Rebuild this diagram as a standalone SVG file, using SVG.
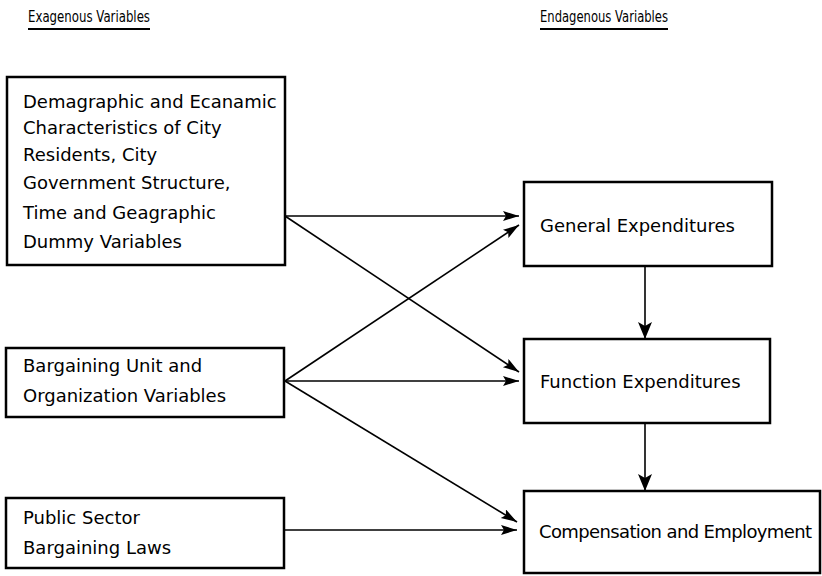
<svg xmlns="http://www.w3.org/2000/svg" width="822" height="576" viewBox="0 0 822 576">
<style>
.box{fill:#fff;stroke:#000;stroke-width:2.5}
.t{font-family:"DejaVu Sans","Liberation Sans",sans-serif;font-size:18px;fill:#000}
.h{font-family:"DejaVu Sans","Liberation Sans",sans-serif;font-size:16px;fill:#000}
.c{stroke:#000;stroke-width:1.6;fill:none}
.u{stroke:#000;stroke-width:1.8}
</style>
<defs>
<marker id="ah" markerUnits="userSpaceOnUse" markerWidth="18" markerHeight="12" refX="16" refY="5" orient="auto">
<path d="M0,0 L16,5 L0,10 L3,5 z" fill="#000"/>
</marker>
<marker id="av" markerUnits="userSpaceOnUse" markerWidth="18" markerHeight="16" refX="17" refY="7" orient="auto">
<path d="M0,0 L17,7 L0,14 L4,7 z" fill="#000"/>
</marker>
</defs>
<g id="headers">
<text class="h" x="28" y="22" textLength="122" lengthAdjust="spacingAndGlyphs">Exagenous Variables</text>
<line class="u" x1="28" y1="29" x2="150" y2="29"/>
<text class="h" x="540" y="22" textLength="128" lengthAdjust="spacingAndGlyphs">Endagenous Variables</text>
<line class="u" x1="540" y1="29" x2="668" y2="29"/>
</g>
<g id="connectors">
<line class="c" x1="285" y1="216" x2="519" y2="216" marker-end="url(#ah)"/>
<line class="c" x1="285" y1="216" x2="519" y2="372" marker-end="url(#ah)"/>
<line class="c" x1="285" y1="381" x2="519" y2="225" marker-end="url(#ah)"/>
<line class="c" x1="285" y1="381" x2="519" y2="381" marker-end="url(#ah)"/>
<line class="c" x1="285" y1="381" x2="517" y2="522" marker-end="url(#ah)"/>
<line class="c" x1="285" y1="530" x2="517" y2="530" marker-end="url(#ah)"/>
<line class="c" x1="645" y1="267" x2="645" y2="339" marker-end="url(#av)"/>
<line class="c" x1="645" y1="423" x2="645" y2="491" marker-end="url(#av)"/>
</g>
<g id="demographic">
<rect class="box" x="7" y="77" width="278" height="188"/>
<text class="t" x="23" y="108">Demagraphic and Ecanamic</text>
<text class="t" x="23" y="134">Characteristics of City</text>
<text class="t" x="23" y="161">Residents, City</text>
<text class="t" x="23" y="189">Government Structure,</text>
<text class="t" x="23" y="219">Time and Geagraphic</text>
<text class="t" x="23" y="248">Dummy  Variables</text>
</g>
<g id="bargaining-unit">
<rect class="box" x="6" y="348" width="278" height="69"/>
<text class="t" x="23" y="372">Bargaining Unit and</text>
<text class="t" x="23" y="402">Organization Variables</text>
</g>
<g id="public-sector">
<rect class="box" x="6" y="498" width="278" height="70"/>
<text class="t" x="23" y="524">Public Sector</text>
<text class="t" x="23" y="554">Bargaining Laws</text>
</g>
<g id="general">
<rect class="box" x="524" y="182" width="248" height="84"/>
<text class="t" x="540" y="232">General Expenditures</text>
</g>
<g id="function">
<rect class="box" x="524" y="339" width="246" height="84"/>
<text class="t" x="540" y="388">Function Expenditures</text>
</g>
<g id="compensation">
<rect class="box" x="524" y="491" width="296" height="82"/>
<text class="t" x="539" y="538" textLength="273">Compensation and Employment</text>
</g>
</svg>
